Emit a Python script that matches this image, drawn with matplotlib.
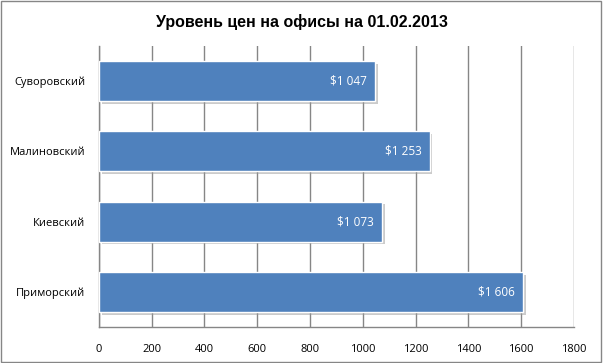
import matplotlib.pyplot as plt
import matplotlib.patheffects as pe
from matplotlib.patches import Rectangle

districts = ['Суворовский', 'Малиновский', 'Киевский', 'Приморский']
prices = [1047, 1253, 1073, 1606]
price_labels = ['$1 047', '$1 253', '$1 073', '$1 606']
xticks = [0, 200, 400, 600, 800, 1000, 1200, 1400, 1600, 1800]

plt.rcParams['font.family'] = ['Open Sans', 'DejaVu Sans']

fig = plt.figure(figsize=(6.03, 3.63), dpi=100)
ax = fig.add_axes([0.164, 0.099, 0.788, 0.774])

grid_color = '#868686'
ypos = list(range(len(districts)))[::-1]
bars = ax.barh(ypos, prices, height=0.57, color='#4F81BD', edgecolor='white',
               linewidth=1, zorder=3)
for b in bars:
    b.set_path_effects([pe.SimplePatchShadow(offset=(2, -2), shadow_rgbFace='#999999', alpha=0.5),
                        pe.Normal()])

for y, v, lab in zip(ypos, prices, price_labels):
    ax.text(v - 30, y, lab, color='white', fontsize=8.5, ha='right', va='center', zorder=4)

ax.set_xlim(0, 1800)
ax.set_ylim(-0.5, len(districts) - 0.5)
ax.set_xticks(xticks)
ax.set_xticklabels([str(t) for t in xticks], fontsize=8)
ax.set_yticks(ypos)
ax.set_yticklabels(districts, fontsize=8)
ax.tick_params(axis='both', length=0, pad=12)
ax.tick_params(axis='y', pad=10)
ax.xaxis.grid(True, color=grid_color, linewidth=1, zorder=0)
ax.set_axisbelow(True)
for s in ['top', 'right']:
    ax.spines[s].set_visible(False)
for s in ['left', 'bottom']:
    ax.spines[s].set_color(grid_color)
    ax.spines[s].set_linewidth(1)

fig.text(0.5, 0.94, 'Уровень цен на офисы на 01.02.2013', ha='center', va='center',
         fontsize=11.5, fontweight='bold', family=['Liberation Sans', 'DejaVu Sans'])

fig.patches.append(Rectangle((0.002, 0.003), 0.995, 0.993, transform=fig.transFigure,
                             fill=False, edgecolor='#868686', linewidth=1))

fig.savefig('out.png', dpi=100)
